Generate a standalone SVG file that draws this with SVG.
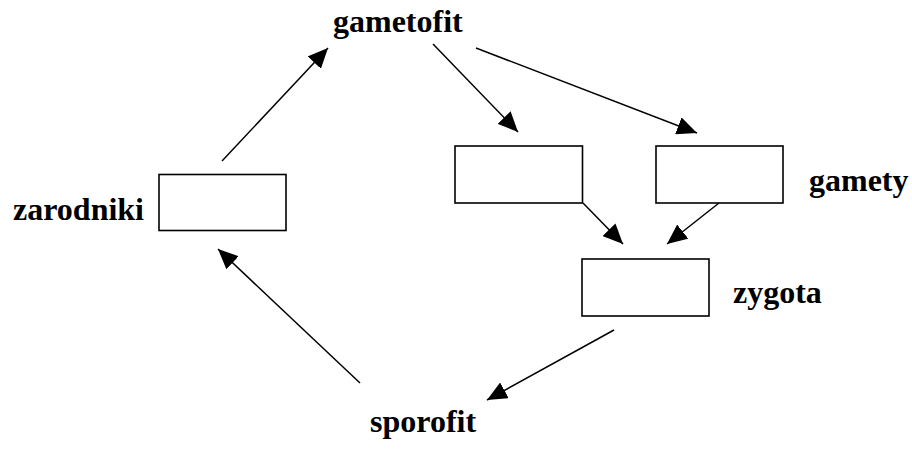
<svg xmlns="http://www.w3.org/2000/svg" width="912" height="449" viewBox="0 0 912 449">
<style>
.box{fill:#fff;stroke:#000;stroke-width:1.6}
.lbl{font-family:"Liberation Serif","Times New Roman",serif;font-weight:bold;font-size:32px;fill:#000}
.edge{stroke:#000;stroke-width:1.5;fill:none;marker-end:url(#ah)}
</style>
<defs>
<marker id="ah" markerUnits="userSpaceOnUse" markerWidth="21" markerHeight="18" refX="20" refY="9" orient="auto" viewBox="0 0 21 18">
<path d="M0,0 L20,9 L0,18 z" fill="#000"/>
</marker>
</defs>
<rect width="912" height="449" fill="#fff"/>
<g id="node-gametofit"><text class="lbl" x="333" y="32">gametofit</text></g>
<g id="node-zarodniki"><rect class="box" x="159" y="174.5" width="127" height="56"/><text class="lbl" x="13" y="220">zarodniki</text></g>
<g id="node-gameta1"><rect class="box" x="455" y="146" width="127.5" height="57"/></g>
<g id="node-gamety"><rect class="box" x="656" y="146" width="127" height="57"/><text class="lbl" x="809" y="191">gamety</text></g>
<g id="node-zygota"><rect class="box" x="582" y="259" width="127" height="57"/><text class="lbl" x="733" y="303">zygota</text></g>
<g id="node-sporofit"><text class="lbl" x="370" y="432">sporofit</text></g>
<g id="connectors">
<line class="edge" x1="222" y1="161" x2="328" y2="48"/>
<line class="edge" x1="433" y1="44" x2="518" y2="132"/>
<line class="edge" x1="476" y1="48" x2="697" y2="133"/>
<line class="edge" x1="583" y1="203" x2="623" y2="244"/>
<line class="edge" x1="719" y1="203" x2="667" y2="244"/>
<line class="edge" x1="614" y1="330" x2="487" y2="400"/>
<line class="edge" x1="360" y1="383" x2="218" y2="249"/>
</g>
</svg>
